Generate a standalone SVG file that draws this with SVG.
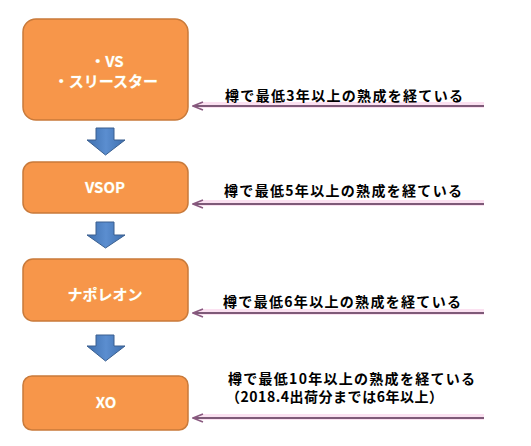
<svg xmlns="http://www.w3.org/2000/svg" width="531" height="446" viewBox="0 0 531 446">
<defs>
<linearGradient id="blueGrad" x1="0" y1="0" x2="1" y2="0">
<stop offset="0" stop-color="#3E6FAE"/>
<stop offset="0.5" stop-color="#5B8ED0"/>
<stop offset="1" stop-color="#3E6FAE"/>
</linearGradient>
<marker id="open" viewBox="0 0 12 10" refX="11" refY="5" markerWidth="12" markerHeight="10" markerUnits="userSpaceOnUse" orient="auto">
<path d="M1,1 L11,5 L1,9" fill="none" stroke="#8A5A80" stroke-width="1.6"/>
</marker>
</defs>
<style>
.node rect{fill:#F7964A;stroke:#C97A3A;stroke-width:1.5}
.ntext{font-family:"Noto Sans CJK JP","DejaVu Sans",sans-serif;font-weight:bold;font-size:15px;fill:#FFFFFF;text-anchor:middle;stroke:#F2C97A;stroke-width:0.5;paint-order:stroke}
.label{font-family:"Noto Sans CJK JP","DejaVu Sans",sans-serif;font-weight:bold;font-size:14px;fill:#000000}
.conn{stroke:#7E5A78;stroke-width:2;fill:none}
.glow{stroke:#FBE1F1;stroke-width:6;fill:none}
.barrow{fill:url(#blueGrad);stroke:#3A5F8F;stroke-width:1}
</style>
<rect width="531" height="446" fill="#FFFFFF"/>

<g id="node-vs" class="node">
<rect x="23" y="19" width="165" height="101" rx="13"/>
<text class="ntext" x="107" y="67">・VS</text>
<text class="ntext" x="106" y="87">・スリースター</text>
</g>
<g id="node-vsop" class="node">
<rect x="23" y="162" width="165" height="51" rx="10"/>
<text class="ntext" x="105" y="193">VSOP</text>
</g>
<g id="node-napoleon" class="node">
<rect x="23" y="259" width="165" height="62" rx="10"/>
<text class="ntext" x="105" y="300">ナポレオン</text>
</g>
<g id="node-xo" class="node">
<rect x="23" y="376" width="165" height="54" rx="9"/>
<text class="ntext" x="106" y="408">XO</text>
</g>

<g id="flow-arrows">
<path class="barrow" d="M96,128 H114 V140 H125 L105.5,155 L87,140 H96 Z"/>
<path class="barrow" d="M96,222 H114 V235 H125 L105.5,248 L87,235 H96 Z"/>
<path class="barrow" d="M96,335 H114 V346 H125 L105.5,361 L87,346 H96 Z"/>
</g>

<g id="connectors">
<line class="glow" x1="484" y1="105" x2="200" y2="105"/>
<line class="conn" x1="484" y1="106" x2="193" y2="106" marker-end="url(#open)"/>
<line class="glow" x1="484" y1="203" x2="200" y2="203"/>
<line class="conn" x1="484" y1="204" x2="193" y2="204" marker-end="url(#open)"/>
<line class="glow" x1="484" y1="312" x2="200" y2="312"/>
<line class="conn" x1="484" y1="313" x2="193" y2="313" marker-end="url(#open)"/>
<line class="glow" x1="484" y1="417" x2="200" y2="417"/>
<line class="conn" x1="484" y1="418" x2="193" y2="418" marker-end="url(#open)"/>
</g>

<g id="labels">
<text class="label" x="225" y="101" textLength="238">樽で最低3年以上の熟成を経ている</text>
<text class="label" x="224" y="196" textLength="238">樽で最低5年以上の熟成を経ている</text>
<text class="label" x="223" y="307" textLength="238">樽で最低6年以上の熟成を経ている</text>
<text class="label" x="228" y="384" textLength="247">樽で最低10年以上の熟成を経ている</text>
<text class="label" x="226" y="402" textLength="217">（2018.4出荷分までは6年以上）</text>
</g>
</svg>
